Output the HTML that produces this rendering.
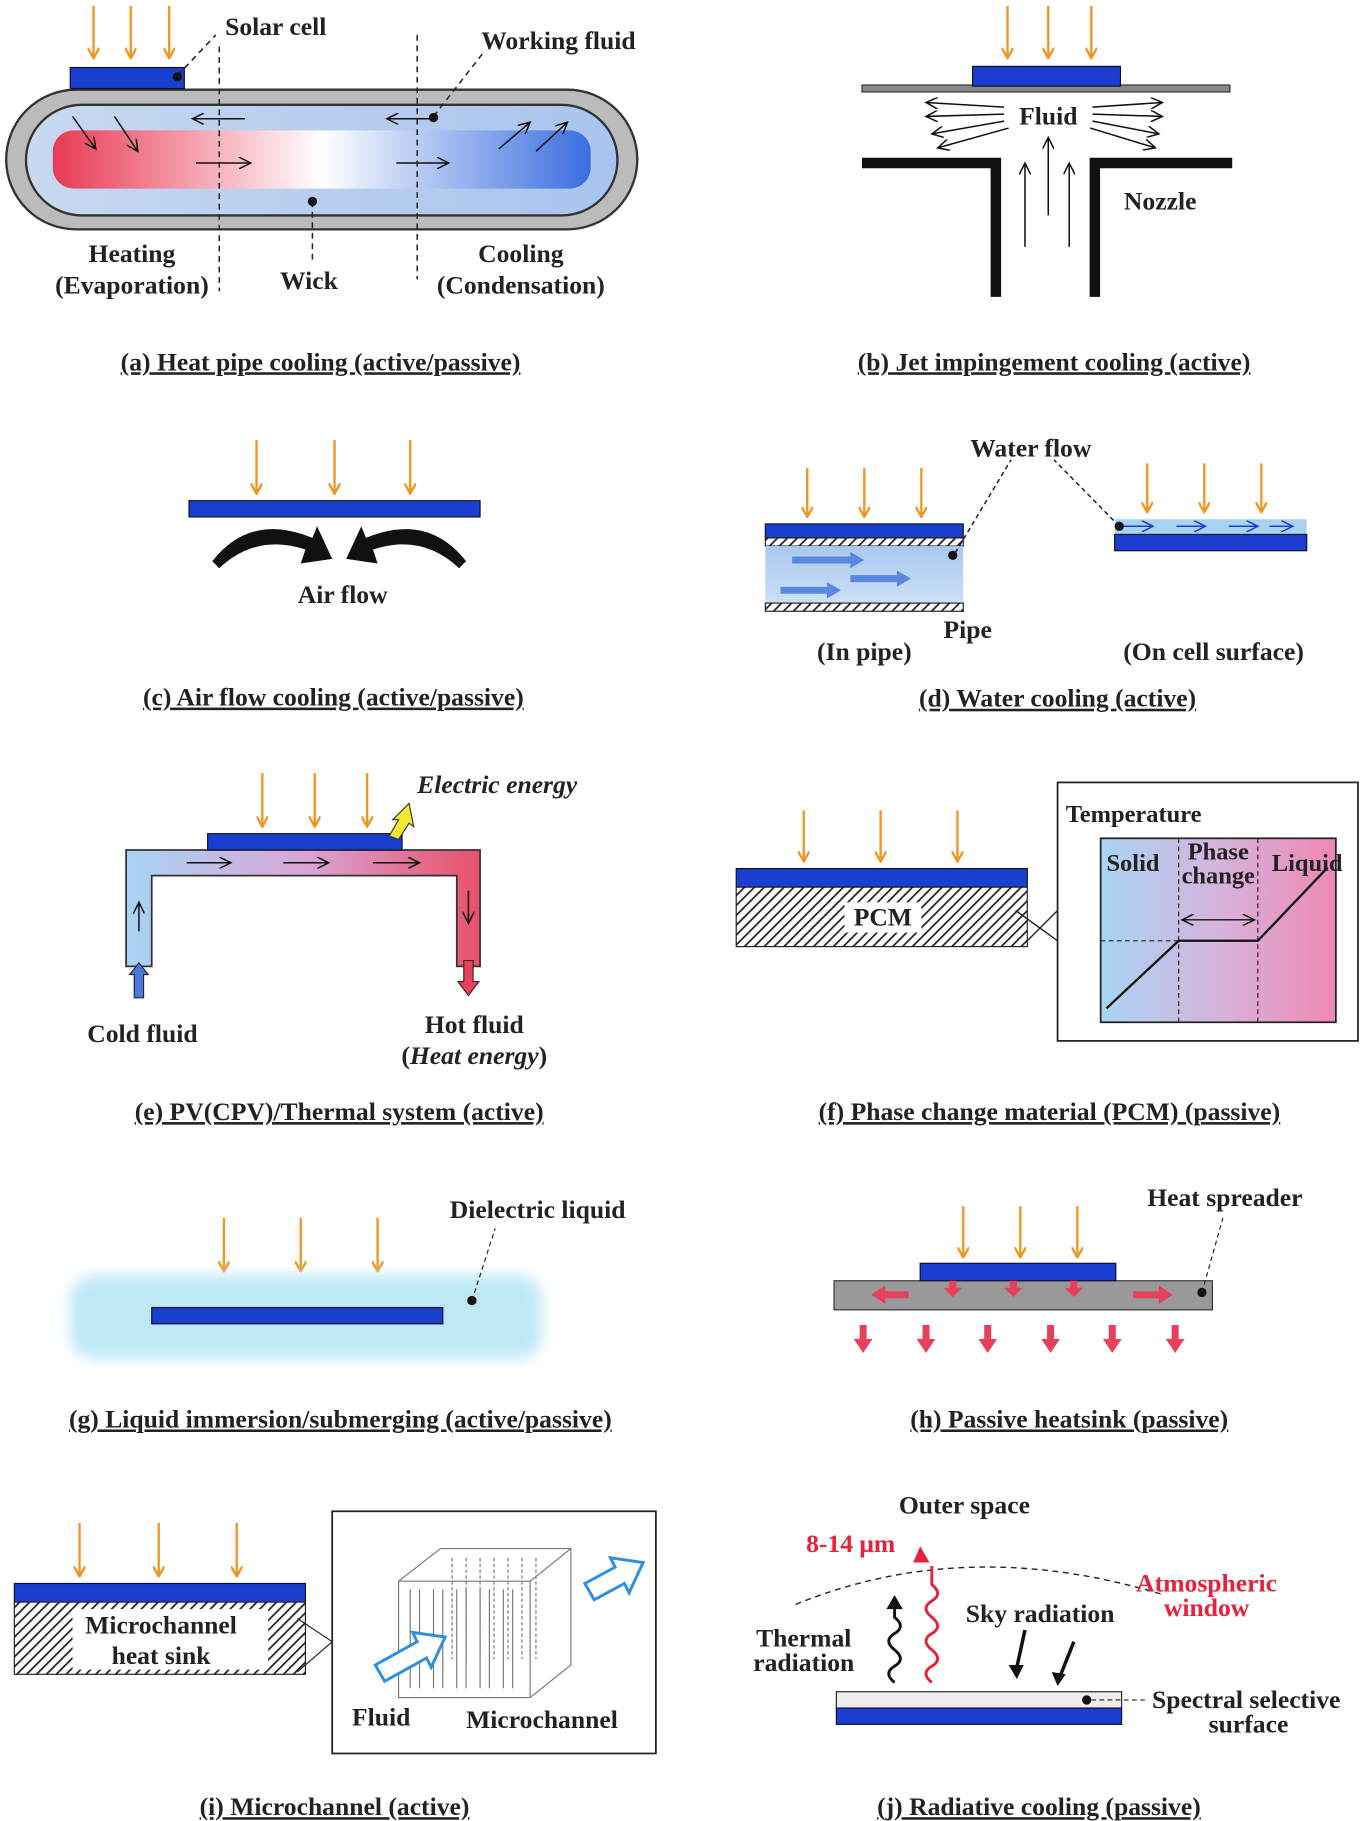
<!DOCTYPE html>
<html><head><meta charset="utf-8"><style>
html,body{margin:0;padding:0;background:#fff}
svg{display:block}
text{font-family:"Liberation Serif",serif;font-weight:bold;fill:#222}
</style></head><body>
<svg width="1363" height="1821" viewBox="0 0 1170 1564" xmlns="http://www.w3.org/2000/svg">
<defs>
<marker id="ao" markerWidth="10" markerHeight="10" refX="9" refY="5" orient="auto" markerUnits="userSpaceOnUse" viewBox="0 0 10 10"><path d="M0,0 L9,5 L0,10" fill="none" stroke="#f0961e" stroke-width="2"/></marker>
<marker id="ak" markerWidth="12" markerHeight="10" refX="10" refY="5" orient="auto" markerUnits="userSpaceOnUse"><path d="M0,0 L10,5 L0,10" fill="none" stroke="#111" stroke-width="1.3"/></marker>
<marker id="ab" markerWidth="12" markerHeight="10" refX="10" refY="5" orient="auto" markerUnits="userSpaceOnUse"><path d="M0,0 L10,5 L0,10" fill="none" stroke="#1a3fd0" stroke-width="1.3"/></marker>
<linearGradient id="hp" x1="0" x2="1"><stop offset="0" stop-color="#e83a55"/><stop offset="0.5" stop-color="#fff"/><stop offset="1" stop-color="#3a6ee0"/></linearGradient>
<linearGradient id="hpo" x1="0" x2="1"><stop offset="0" stop-color="#c8d8f0"/><stop offset="1" stop-color="#a8c4ee"/></linearGradient>
<linearGradient id="pvt" x1="0" x2="1"><stop offset="0" stop-color="#a8d4f4"/><stop offset="0.5" stop-color="#d9a6d6"/><stop offset="1" stop-color="#e8506a"/></linearGradient>
<linearGradient id="pcm" x1="0" x2="1"><stop offset="0" stop-color="#a8d4f4"/><stop offset="0.5" stop-color="#d6b4dc"/><stop offset="1" stop-color="#ee88b4"/></linearGradient>
<linearGradient id="wp" x1="0" y1="0" x2="0" y2="1"><stop offset="0" stop-color="#a8c8ef"/><stop offset="1" stop-color="#cde0f6"/></linearGradient>
<pattern id="hatch" width="6" height="6" patternUnits="userSpaceOnUse" patternTransform="rotate(45)"><rect width="6" height="6" fill="#fff"/><line x1="0" y1="0" x2="0" y2="6" stroke="#222" stroke-width="3"/></pattern>
<filter id="blur"><feGaussianBlur stdDeviation="6"/></filter>
</defs>

<g stroke="#f0961e" stroke-width="2" marker-end="url(#ao)" fill="none">
<line x1="80" y1="5" x2="80" y2="50"/><line x1="112" y1="5" x2="112" y2="50"/><line x1="145" y1="5" x2="145" y2="50"/>
<line x1="865" y1="5" x2="865" y2="50"/><line x1="900" y1="5" x2="900" y2="50"/><line x1="937" y1="5" x2="937" y2="50"/>
<line x1="220" y1="378" x2="220" y2="424"/><line x1="287" y1="378" x2="287" y2="424"/><line x1="352" y1="378" x2="352" y2="424"/>
<line x1="693" y1="402" x2="693" y2="444"/><line x1="742" y1="402" x2="742" y2="444"/><line x1="791" y1="402" x2="791" y2="444"/>
<line x1="985" y1="398" x2="985" y2="440"/><line x1="1034" y1="398" x2="1034" y2="440"/><line x1="1083" y1="398" x2="1083" y2="440"/>
<line x1="225" y1="664" x2="225" y2="710"/><line x1="270" y1="664" x2="270" y2="710"/><line x1="315" y1="664" x2="315" y2="710"/>
<line x1="690" y1="696" x2="690" y2="740"/><line x1="756" y1="696" x2="756" y2="740"/><line x1="822" y1="696" x2="822" y2="740"/>
<line x1="192" y1="1046" x2="192" y2="1092"/><line x1="258" y1="1046" x2="258" y2="1092"/><line x1="324" y1="1046" x2="324" y2="1092"/>
<line x1="827" y1="1036" x2="827" y2="1080"/><line x1="876" y1="1036" x2="876" y2="1080"/><line x1="925" y1="1036" x2="925" y2="1080"/>
<line x1="68" y1="1308" x2="68" y2="1354"/><line x1="136" y1="1308" x2="136" y2="1354"/><line x1="203" y1="1308" x2="203" y2="1354"/>
</g>

<!-- (a) -->
<rect x="5" y="77" width="542" height="120" rx="60" fill="#bbb" stroke="#333" stroke-width="2"/>
<rect x="22" y="90" width="508" height="95" rx="48" fill="url(#hpo)" stroke="#333" stroke-width="2"/>
<rect x="45" y="112" width="462" height="50" rx="18" fill="url(#hp)"/>
<rect x="60" y="58" width="98" height="18" fill="#1a3fd0" stroke="#112" stroke-width="1"/>
<g stroke="#111" stroke-width="1.3" marker-end="url(#ak)">
<line x1="210" y1="102" x2="165" y2="102"/><line x1="375" y1="102" x2="332" y2="102"/>
<line x1="168" y1="140" x2="215" y2="140"/><line x1="340" y1="140" x2="385" y2="140"/>
<line x1="62" y1="100" x2="82" y2="128"/><line x1="98" y1="100" x2="118" y2="130"/>
<line x1="428" y1="128" x2="455" y2="105"/><line x1="460" y1="130" x2="487" y2="105"/>
</g>
<g stroke="#222" stroke-dasharray="5,4" stroke-width="1.3">
<line x1="188" y1="40" x2="188" y2="250"/><line x1="358" y1="30" x2="358" y2="240"/>
<line x1="152" y1="65" x2="185" y2="30"/><line x1="372" y1="100" x2="415" y2="45"/><line x1="268" y1="173" x2="268" y2="225"/>
</g>
<circle cx="152" cy="66" r="4" fill="#111"/><circle cx="372" cy="101" r="4" fill="#111"/><circle cx="268" cy="173" r="4" fill="#111"/>
<g font-size="22">
<text x="193" y="30">Solar cell</text><text x="413" y="42">Working fluid</text>
<text x="113" y="225" text-anchor="middle">Heating</text><text x="113" y="252" text-anchor="middle">(Evaporation)</text>
<text x="265" y="248" text-anchor="middle">Wick</text>
<text x="447" y="225" text-anchor="middle">Cooling</text><text x="447" y="252" text-anchor="middle">(Condensation)</text>
</g>

<!-- (b) -->
<rect x="740" y="73" width="316" height="6" fill="#888" stroke="#333" stroke-width="1"/>
<rect x="835" y="57" width="127" height="17" fill="#1a3fd0" stroke="#112"/>
<path d="M740,140 H855 V255 M940,255 V140 H1058" fill="none" stroke="#111" stroke-width="9"/>
<g stroke="#111" stroke-width="1.3" marker-end="url(#ak)">
<line x1="880" y1="212" x2="880" y2="140"/><line x1="900" y1="185" x2="900" y2="118"/><line x1="918" y1="212" x2="918" y2="140"/>
<line x1="862" y1="92" x2="795" y2="88"/><line x1="862" y1="98" x2="795" y2="100"/><line x1="862" y1="104" x2="800" y2="115"/><line x1="866" y1="110" x2="805" y2="127"/>
<line x1="938" y1="92" x2="998" y2="88"/><line x1="938" y1="98" x2="998" y2="100"/><line x1="938" y1="104" x2="995" y2="115"/><line x1="936" y1="110" x2="992" y2="127"/>
</g>
<g font-size="22"><text x="900" y="107" text-anchor="middle">Fluid</text><text x="965" y="180">Nozzle</text></g>

<!-- (c) -->
<rect x="162" y="430" width="250" height="14" fill="#1a3fd0" stroke="#112"/>
<path d="M182,482 Q215,440 268,462 L272,452 L285,480 L258,484 L262,472 Q220,458 188,488 Z" fill="#111"/>
<path d="M400,482 Q367,440 314,462 L310,452 L297,480 L324,484 L320,472 Q362,458 394,488 Z" fill="#111"/>
<text x="294" y="518" font-size="22" text-anchor="middle">Air flow</text>

<!-- (d) -->
<rect x="657" y="450" width="170" height="12" fill="#1a3fd0" stroke="#112"/>
<rect x="657" y="462" width="170" height="7" fill="url(#hatch)" stroke="#222"/>
<rect x="657" y="469" width="170" height="49" fill="url(#wp)"/>
<rect x="657" y="518" width="170" height="7" fill="url(#hatch)" stroke="#222"/>
<g fill="#5a88e0"><path d="M680,478 h50 v-4 l12,7 l-12,7 v-4 h-50z"/><path d="M730,494 h40 v-4 l12,7 l-12,7 v-4 h-40z"/><path d="M670,504 h40 v-4 l12,7 l-12,7 v-4 h-40z"/></g>
<circle cx="818" cy="477" r="4" fill="#111"/>
<rect x="957" y="446" width="165" height="13" fill="#a8d4f4"/>
<rect x="957" y="459" width="165" height="14" fill="#1a3fd0" stroke="#112"/>
<g stroke="#1a3fd0" stroke-width="1.3" marker-end="url(#ab)">
<line x1="965" y1="452" x2="990" y2="452"/><line x1="1010" y1="452" x2="1035" y2="452"/><line x1="1055" y1="452" x2="1080" y2="452"/><line x1="1090" y1="452" x2="1110" y2="452"/></g>
<circle cx="961" cy="452" r="4" fill="#111"/>
<g stroke="#222" stroke-dasharray="4,3" stroke-width="1.3" fill="none"><line x1="820" y1="475" x2="868" y2="395"/><line x1="961" y1="452" x2="905" y2="395"/></g>
<g font-size="22"><text x="885" y="392" text-anchor="middle">Water flow</text><text x="810" y="548">Pipe</text>
<text x="742" y="567" text-anchor="middle">(In pipe)</text><text x="1042" y="567" text-anchor="middle">(On cell surface)</text></g>

<!-- (e) -->
<path d="M108,830 V730 H412 V830 H392 V752 H130 V830 Z" fill="url(#pvt)" stroke="#333" stroke-width="1.5"/>
<rect x="178" y="716" width="167" height="14" fill="#1a3fd0" stroke="#112"/>
<g stroke="#111" stroke-width="1.3" marker-end="url(#ak)">
<line x1="160" y1="741" x2="198" y2="741"/><line x1="243" y1="741" x2="282" y2="741"/><line x1="320" y1="741" x2="360" y2="741"/>
<line x1="119" y1="800" x2="119" y2="775"/><line x1="402" y1="765" x2="402" y2="793"/></g>
<path d="M119,827 l8,10 h-4 v20 h-8 v-20 h-4z" fill="#4a78d8" stroke="#224"/>
<path d="M402,855 l9,-12 h-5 v-18 h-8 v18 h-5z" fill="#e8405a" stroke="#422"/>
<path d="M334,718 l8,-14 h-5 l14,-14 l4,20 l-4,-3 l-9,14z" fill="#f2ea30" stroke="#333"/>
<g font-size="22"><text x="358" y="681" font-style="italic">Electric energy</text>
<text x="122" y="895" text-anchor="middle">Cold fluid</text><text x="407" y="887" text-anchor="middle">Hot fluid</text>
<text x="407" y="914" text-anchor="middle">(<tspan font-style="italic">Heat energy</tspan>)</text></g>

<!-- (f) -->
<rect x="632" y="746" width="250" height="16" fill="#1a3fd0" stroke="#112"/>
<rect x="632" y="762" width="250" height="51" fill="url(#hatch)" stroke="#222"/>
<rect x="725" y="775" width="66" height="26" fill="#fff"/>
<text x="758" y="795" font-size="22" text-anchor="middle">PCM</text>
<path d="M872,782 L908,808 M882,808 L908,782" stroke="#222" stroke-width="1.2" fill="none"/>
<rect x="908" y="672" width="258" height="222" fill="#fff" stroke="#222" stroke-width="1.5"/>
<rect x="945" y="720" width="202" height="158" fill="url(#pcm)" stroke="#222" stroke-width="1.5"/>
<g stroke="#222" stroke-dasharray="4,3" stroke-width="1"><line x1="1012" y1="720" x2="1012" y2="878"/><line x1="1080" y1="720" x2="1080" y2="878"/><line x1="945" y1="808" x2="1012" y2="808"/></g>
<polyline points="950,866 1012,808 1080,808 1140,745" fill="none" stroke="#111" stroke-width="2"/>
<line x1="1015" y1="790" x2="1077" y2="790" stroke="#111" marker-end="url(#ak)"/><line x1="1077" y1="790" x2="1015" y2="790" stroke="#111" marker-end="url(#ak)"/>
<g font-size="21"><text x="915" y="706">Temperature</text><text x="950" y="748">Solid</text>
<text x="1046" y="738" text-anchor="middle">Phase</text><text x="1046" y="759" text-anchor="middle">change</text><text x="1092" y="748">Liquid</text></g>

<!-- (g) -->
<rect x="60" y="1095" width="405" height="72" rx="20" fill="#bfe8f6" filter="url(#blur)"/>
<rect x="130" y="1123" width="250" height="14" fill="#1a3fd0" stroke="#112"/>
<circle cx="405" cy="1117" r="4" fill="#111"/>
<line x1="405" y1="1117" x2="425" y2="1055" stroke="#222" stroke-dasharray="4,3"/>
<text x="386" y="1046" font-size="22">Dielectric liquid</text>

<!-- (h) -->
<rect x="716" y="1100" width="325" height="25" fill="#999" stroke="#333"/>
<rect x="790" y="1085" width="168" height="15" fill="#1a3fd0" stroke="#112"/>
<g fill="#e8405a">
<path d="M760,1109 h20 v6 h-20 v5 l-12,-8 l12,-8z"/><path d="M995,1109 h-22 v6 h22 v5 l12,-8 l-12,-8z"/>
<path d="M815,1100 h6 v6 h5 l-8,8 l-8,-8 h5z"/><path d="M867,1100 h6 v6 h5 l-8,8 l-8,-8 h5z"/><path d="M919,1100 h6 v6 h5 l-8,8 l-8,-8 h5z"/>
<path d="M738,1138 h6 v12 h5 l-8,12 l-8,-12 h5z"/><path d="M792,1138 h6 v12 h5 l-8,12 l-8,-12 h5z"/><path d="M845,1138 h6 v12 h5 l-8,12 l-8,-12 h5z"/><path d="M899,1138 h6 v12 h5 l-8,12 l-8,-12 h5z"/><path d="M952,1138 h6 v12 h5 l-8,12 l-8,-12 h5z"/><path d="M1006,1138 h6 v12 h5 l-8,12 l-8,-12 h5z"/>
</g>
<circle cx="1032" cy="1110" r="4" fill="#111"/>
<line x1="1032" y1="1110" x2="1050" y2="1046" stroke="#222" stroke-dasharray="4,3"/>
<text x="985" y="1036" font-size="22">Heat spreader</text>

<!-- (i) -->
<rect x="12" y="1360" width="250" height="16" fill="#1a3fd0" stroke="#112"/>
<rect x="12" y="1376" width="250" height="62" fill="url(#hatch)" stroke="#222"/>
<rect x="62" y="1382" width="168" height="52" fill="#fff"/>
<g font-size="22"><text x="138" y="1403" text-anchor="middle">Microchannel</text><text x="138" y="1429" text-anchor="middle">heat sink</text></g>
<path d="M255,1390 L285,1410 M255,1436 L285,1410" stroke="#222" fill="none"/>
<rect x="285" y="1298" width="278" height="208" fill="#fff" stroke="#222" stroke-width="1.5"/>
<g stroke="#777" fill="none" stroke-width="1">
<path d="M342,1358 L378,1330 H490 V1430 L455,1458 H342 Z M342,1358 H455 V1458 M455,1358 L490,1330"/>
<path d="M352,1365 V1450 M360,1365 V1450 M372,1365 V1450 M380,1365 V1450 M392,1365 V1450 M400,1365 V1450 M412,1365 V1450 M420,1365 V1450 M432,1365 V1450 M440,1365 V1450"/>
<path d="M388,1338 V1425 M400,1338 V1425 M412,1338 V1425 M424,1338 V1425 M436,1338 V1425 M448,1338 V1425 M460,1338 V1425" stroke-dasharray="3,2"/>
</g>
<path d="M322,1430 l36,-20 l-4,-8 l28,4 l-12,26 l-4,-8 l-36,20z" fill="#fff" stroke="#2a90e0" stroke-width="2.5"/>
<path d="M502,1360 l26,-14 l-4,-8 l28,4 l-12,26 l-4,-8 l-26,14z" fill="#fff" stroke="#2a90e0" stroke-width="2.5"/>
<g font-size="22"><text x="302" y="1482">Fluid</text><text x="400" y="1484">Microchannel</text></g>

<!-- (j) -->
<path d="M683,1378 Q830,1318 1000,1370" fill="none" stroke="#222" stroke-dasharray="5,4" stroke-width="1.2"/>
<rect x="718" y="1453" width="245" height="14" fill="#eee" stroke="#222"/>
<rect x="718" y="1467" width="245" height="14" fill="#1a3fd0" stroke="#112"/>
<circle cx="933" cy="1460" r="4" fill="#111"/>
<line x1="937" y1="1460" x2="985" y2="1460" stroke="#222" stroke-dasharray="4,3"/>
<path d="M768,1445 q-10,-8 0,-14 q10,-6 0,-14 q-10,-8 0,-14 q10,-6 0,-14 l0,-10" fill="none" stroke="#111" stroke-width="2.5"/>
<path d="M768,1370 l-7,12 h14z" fill="#111"/>
<path d="M800,1445 q-10,-8 0,-14 q10,-6 0,-14 q-10,-8 0,-14 q10,-6 0,-14 q-10,-8 0,-14 q10,-6 0,-14 l0,-16" fill="none" stroke="#e8203a" stroke-width="2.5"/>
<path d="M790,1328 l-6,14 h14z" fill="#e8203a"/>
<g stroke="#111" stroke-width="3"><line x1="880" y1="1400" x2="873" y2="1432"/><line x1="922" y1="1410" x2="910" y2="1440"/></g>
<path d="M866,1430 l7,12 l6,-12z M903,1436 l5,12 l7,-10z" fill="#111"/>
<g font-size="22"><text x="828" y="1300" text-anchor="middle">Outer space</text>
<text x="692" y="1333" style="fill:#e8203a">8-14 μm</text>
<text x="1036" y="1367" text-anchor="middle" style="fill:#e8203a">Atmospheric</text><text x="1036" y="1388" text-anchor="middle" style="fill:#e8203a">window</text>
<text x="893" y="1393" text-anchor="middle">Sky radiation</text>
<text x="690" y="1414" text-anchor="middle">Thermal</text><text x="690" y="1435" text-anchor="middle">radiation</text>
<text x="1070" y="1467" text-anchor="middle">Spectral selective</text><text x="1072" y="1488" text-anchor="middle">surface</text></g>

<!-- captions -->
<g font-size="22">
<text x="275" y="318" text-anchor="middle" text-decoration="underline">(a) Heat pipe cooling (active/passive)</text>
<text x="905" y="318" text-anchor="middle" text-decoration="underline">(b) Jet impingement cooling (active)</text>
<text x="286" y="606" text-anchor="middle" text-decoration="underline">(c) Air flow cooling (active/passive)</text>
<text x="908" y="607" text-anchor="middle" text-decoration="underline">(d) Water cooling (active)</text>
<text x="291" y="962" text-anchor="middle" text-decoration="underline">(e) PV(CPV)/Thermal system (active)</text>
<text x="901" y="962" text-anchor="middle" text-decoration="underline">(f) Phase change material (PCM) (passive)</text>
<text x="292" y="1226" text-anchor="middle" text-decoration="underline">(g) Liquid immersion/submerging (active/passive)</text>
<text x="918" y="1226" text-anchor="middle" text-decoration="underline">(h) Passive heatsink (passive)</text>
<text x="287" y="1559" text-anchor="middle" text-decoration="underline">(i) Microchannel (active)</text>
<text x="892" y="1559" text-anchor="middle" text-decoration="underline">(j) Radiative cooling (passive)</text>
</g>
</svg>
</body></html>
